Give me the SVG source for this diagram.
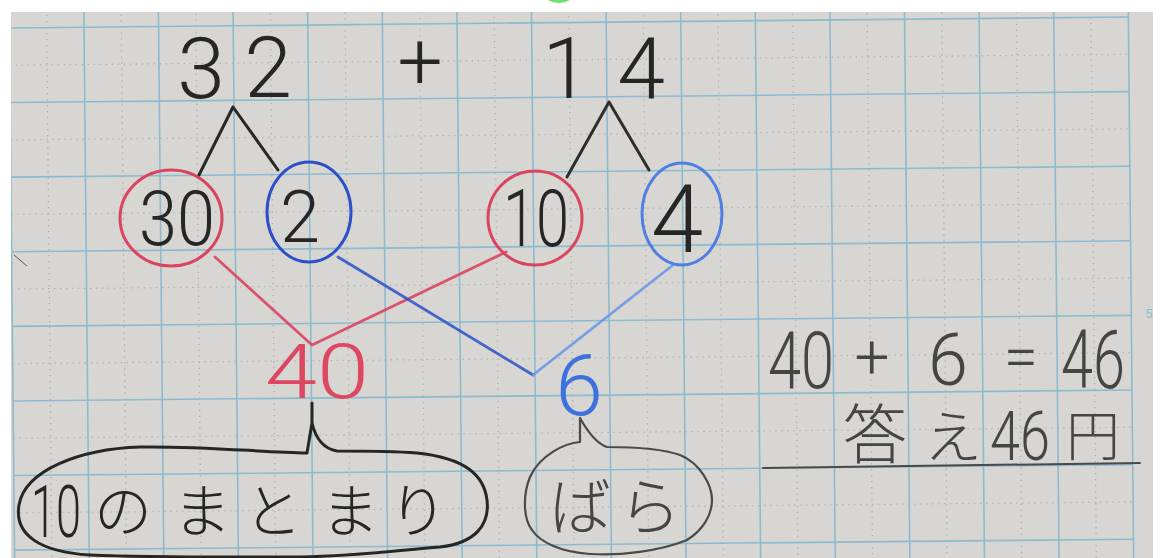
<svg xmlns="http://www.w3.org/2000/svg" width="1166" height="558" viewBox="0 0 1166 558">
<defs>
<clipPath id="paperClip"><rect x="11" y="12" width="1142" height="546"/></clipPath>
<style>
.maj{stroke:#8cbbd0;stroke-width:1.6;fill:none}
.min{stroke:#aab0b5;stroke-width:1.3;stroke-dasharray:1.3 4.7;fill:none}
.num{font-family:Roboto,Lato,"Liberation Sans",sans-serif;font-weight:300;text-anchor:middle}
.jp{font-family:"Noto Sans CJK JP","Noto Sans",sans-serif;font-weight:300;text-anchor:middle}
.blk{fill:#262626}
.pen{fill:#454545}
.red{fill:#dc4862}
.blu{fill:#3d72dd}
.stk{fill:none;stroke-linecap:round;stroke-linejoin:round}
</style>
</defs>
<rect width="1166" height="558" fill="#ffffff"/>
<ellipse cx="559" cy="-6" rx="15" ry="9" fill="#6be36b"/>
<rect x="11" y="12" width="1142" height="546" fill="#d8d6d3"/>
<g id="grid" clip-path="url(#paperClip)">
<g transform="rotate(-0.56 570 280)">
<g class="min">
<line x1="49.2" y1="-20" x2="49.2" y2="600"/><line x1="123.8" y1="-20" x2="123.8" y2="600"/><line x1="198.4" y1="-20" x2="198.4" y2="600"/><line x1="273" y1="-20" x2="273" y2="600"/><line x1="347.6" y1="-20" x2="347.6" y2="600"/><line x1="422.2" y1="-20" x2="422.2" y2="600"/><line x1="496.8" y1="-20" x2="496.8" y2="600"/><line x1="571.4" y1="-20" x2="571.4" y2="600"/><line x1="646" y1="-20" x2="646" y2="600"/><line x1="720.6" y1="-20" x2="720.6" y2="600"/><line x1="795.2" y1="-20" x2="795.2" y2="600"/><line x1="869.8" y1="-20" x2="869.8" y2="600"/><line x1="944.4" y1="-20" x2="944.4" y2="600"/><line x1="1019" y1="-20" x2="1019" y2="600"/><line x1="1093.6" y1="-20" x2="1093.6" y2="600"/>
<line x1="11.9" y1="59.8" x2="1130.9" y2="59.8"/><line x1="11.9" y1="134.4" x2="1130.9" y2="134.4"/><line x1="11.9" y1="209" x2="1130.9" y2="209"/><line x1="11.9" y1="283.6" x2="1130.9" y2="283.6"/><line x1="11.9" y1="358.2" x2="1130.9" y2="358.2"/><line x1="11.9" y1="432.8" x2="1130.9" y2="432.8"/><line x1="11.9" y1="507.4" x2="1130.9" y2="507.4"/>
</g>
<g class="maj">
<line x1="11.9" y1="-20" x2="11.9" y2="600"/><line x1="86.5" y1="-20" x2="86.5" y2="600"/><line x1="161.1" y1="-20" x2="161.1" y2="600"/><line x1="235.7" y1="-20" x2="235.7" y2="600"/><line x1="310.3" y1="-20" x2="310.3" y2="600"/><line x1="384.9" y1="-20" x2="384.9" y2="600"/><line x1="459.5" y1="-20" x2="459.5" y2="600"/><line x1="534.1" y1="-20" x2="534.1" y2="600"/><line x1="608.7" y1="-20" x2="608.7" y2="600"/><line x1="683.3" y1="-20" x2="683.3" y2="600"/><line x1="757.9" y1="-20" x2="757.9" y2="600"/><line x1="832.5" y1="-20" x2="832.5" y2="600"/><line x1="907.1" y1="-20" x2="907.1" y2="600"/><line x1="981.7" y1="-20" x2="981.7" y2="600"/><line x1="1056.3" y1="-20" x2="1056.3" y2="600"/><line x1="1130.9" y1="-20" x2="1130.9" y2="600"/>
<line x1="11.9" y1="22.5" x2="1130.9" y2="22.5"/><line x1="11.9" y1="97.1" x2="1130.9" y2="97.1"/><line x1="11.9" y1="171.7" x2="1130.9" y2="171.7"/><line x1="11.9" y1="246.3" x2="1130.9" y2="246.3"/><line x1="11.9" y1="320.9" x2="1130.9" y2="320.9"/><line x1="11.9" y1="395.5" x2="1130.9" y2="395.5"/><line x1="11.9" y1="470.1" x2="1130.9" y2="470.1"/><line x1="11.9" y1="544.7" x2="1130.9" y2="544.7"/>
</g>
</g>
<text x="1149" y="318" font-family="Roboto,'Liberation Sans',sans-serif" font-size="13" fill="#8fbccf" text-anchor="middle">5</text>
<line x1="14" y1="255" x2="27" y2="266" stroke="#555" stroke-width="1"/>
</g>

<g id="connectors" class="stk">
<path d="M233,107 L198,177 M233,107 L278,170" stroke="#262626" stroke-width="3"/>
<path d="M609,102 L567,177 M609,102 L649,170" stroke="#2e2e2e" stroke-width="3"/>
<path d="M215,257 L312,345 L506,252" stroke="#d94560" stroke-width="2.8" stroke-opacity="0.9"/>
<path d="M338,257 L533,375" stroke="#3358c8" stroke-width="2.8" stroke-opacity="0.9"/>
<path d="M533,375 L673,265" stroke="#6b98e6" stroke-width="2.8" stroke-opacity="0.9"/>
</g>

<g id="node-32">
<text class="num blk" x="201" y="98" font-size="86">3</text>
<text class="num blk" x="268" y="97" font-size="86">2</text>
</g>
<g id="node-plus">
<text class="num blk" x="420" y="89" font-size="80">+</text>
</g>
<g id="node-14">
<text class="num blk" x="566" y="98" font-size="86">1</text>
<text class="num blk" x="641" y="98" font-size="86">4</text>
</g>

<g id="node-30">
<ellipse cx="171" cy="218" rx="51" ry="48" fill="none" stroke="#d94560" stroke-width="3"/>
<text class="num blk" x="177" y="245" font-size="76" textLength="76" lengthAdjust="spacingAndGlyphs">30</text>
</g>
<g id="node-2">
<ellipse cx="309" cy="212" rx="42" ry="50" fill="none" stroke="#2d50c8" stroke-width="3"/>
<text class="num blk" x="300" y="242" font-size="72">2</text>
</g>
<g id="node-10">
<ellipse cx="535" cy="218" rx="47" ry="47" fill="none" stroke="#d94560" stroke-width="3"/>
<text class="num blk" x="536" y="246" font-size="80" textLength="66" lengthAdjust="spacingAndGlyphs">10</text>
</g>
<g id="node-4">
<ellipse cx="682" cy="214" rx="40" ry="51" fill="none" stroke="#4f7fe0" stroke-width="3"/>
<text class="num blk" x="677" y="252" font-size="94">4</text>
</g>

<g id="node-40">
<text class="num red" x="317" y="398" font-size="76" textLength="104" lengthAdjust="spacingAndGlyphs">40</text>
</g>
<g id="node-6">
<text class="num blu" x="579" y="415" font-size="86">6</text>
</g>

<g id="bubble-10">
<path class="stk" stroke="#262626" stroke-width="3" d="M307,453 C260,452 200,446 140,447 C80,449 25,470 19,505 C14,535 40,552 90,555 C160,558 250,557 300,557 C360,556 400,550 440,547 C475,543 490,525 487,500 C484,475 465,458 417,453 C390,451 360,451 337,451 C325,449 316,440 312,423 L312,403 M312,423 L307,453"/>
<text class="num blk" x="56" y="537" font-size="72" textLength="50" lengthAdjust="spacingAndGlyphs">10</text>
<text class="jp blk" font-size="58" y="532"><tspan x="123">の</tspan><tspan x="202">ま</tspan><tspan x="273">と</tspan><tspan x="350">ま</tspan><tspan x="418">り</tspan></text>
</g>

<g id="bubble-bara">
<path class="stk" stroke="#4a4a4a" stroke-width="2.2" d="M580,418 L580,442 C565,443 540,455 530,477 C522,497 524,520 532,530 C540,542 560,552 590,554 C620,556 660,551 687,540 C703,530 712,515 712,500 C712,485 700,463 680,455 C660,448 630,447 607,447 C598,444 590,436 580,418"/>
<text class="jp pen" font-size="62" y="530"><tspan x="580">ば</tspan><tspan x="650">ら</tspan></text>
</g>

<g id="equation">
<text class="num pen" x="801" y="388" font-size="80" textLength="66" lengthAdjust="spacingAndGlyphs">40</text>
<text class="num pen" x="872" y="378" font-size="62">+</text>
<text class="num pen" x="948" y="385" font-size="72">6</text>
<text class="num pen" x="1021" y="378" font-size="62">=</text>
<text class="num pen" x="1093" y="388" font-size="82" textLength="64" lengthAdjust="spacingAndGlyphs">46</text>
</g>
<g id="answer">
<text class="jp pen" x="875" y="458" font-size="64">答</text>
<text class="jp pen" x="953" y="458" font-size="58">え</text>
<text class="num pen" x="1020" y="460" font-size="68" textLength="60" lengthAdjust="spacingAndGlyphs">46</text>
<text class="jp pen" x="1093" y="456" font-size="54">円</text>
<path class="stk" d="M763,468 L1140,463" stroke="#4a4a4a" stroke-width="2"/>
</g>
</svg>
